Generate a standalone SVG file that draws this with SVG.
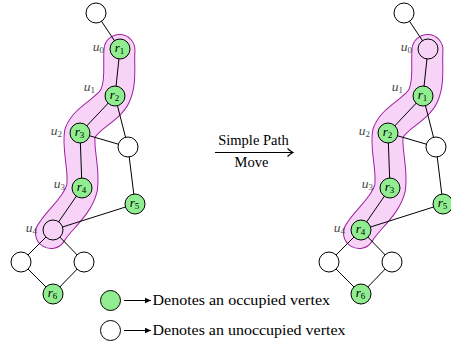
<svg xmlns="http://www.w3.org/2000/svg" width="451" height="345" viewBox="0 0 451 345">
  <style>
    .edge { stroke: #000; stroke-width: 1; fill: none; }
    .occ { fill: #90ee90; stroke: #000; stroke-width: 1; }
    .free { fill: #fff; stroke: #000; stroke-width: 1; }
    .onpath { fill: #f7d4f7; stroke: #000; stroke-width: 1; }
    .tube-out { fill: none; stroke: #a020a0; stroke-width: 32; stroke-linecap: round; stroke-linejoin: round; }
    .tube-in { fill: none; stroke: #f7d4f7; stroke-width: 30; stroke-linecap: round; stroke-linejoin: round; }
    .rl { font-family: "Liberation Serif", "DejaVu Serif", serif; font-style: italic; font-size: 13px; text-anchor: middle; fill: #000; }
    .ul { font-family: "Liberation Serif", "DejaVu Serif", serif; font-style: italic; font-size: 13.5px; text-anchor: end; fill: #484848; }
    .sub { font-size: 9px; font-style: normal; }
    .cap { font-family: "Liberation Serif", "DejaVu Serif", serif; font-size: 14.5px; fill: #000; }
  </style>
  <defs>
    <path id="tube" d="M119.5,50 C118.3,64.7 121.7,82 115,96 C108.3,110 85.5,117.7 80,133 C77,148 85,170 82,188 C78,205 62,217 53,230 L51,233"/>
    <marker id="to" markerWidth="10" markerHeight="10" refX="6" refY="5" orient="auto" markerUnits="userSpaceOnUse">
      <path d="M0.5,1 Q3,3.6 6,5 Q3,6.4 0.5,9" fill="none" stroke="#000" stroke-width="1.1"/>
    </marker>
    <marker id="tri" markerWidth="8" markerHeight="8" refX="6" refY="4" orient="auto" markerUnits="userSpaceOnUse">
      <path d="M0,1.3 L6,4 L0,6.7 Z" fill="#000"/>
    </marker>
  </defs>

  <!-- left configuration: path highlight -->
  <g id="path-left">
    <use href="#tube" class="tube-out"/>
    <use href="#tube" class="tube-in"/>
  </g>

  <!-- right configuration: path highlight -->
  <g id="path-right" transform="translate(308,0)">
    <use href="#tube" class="tube-out"/>
    <use href="#tube" class="tube-in"/>
  </g>

  <g id="connectors">
    <g id="edges-left">
      <line class="edge" x1="96" y1="13" x2="120" y2="49"/>
      <line class="edge" x1="120" y1="49" x2="115" y2="96"/>
      <line class="edge" x1="115" y1="96" x2="80" y2="133"/>
      <line class="edge" x1="115" y1="96" x2="128" y2="147"/>
      <line class="edge" x1="80" y1="133" x2="128" y2="147"/>
      <line class="edge" x1="80" y1="133" x2="82" y2="188"/>
      <line class="edge" x1="82" y1="188" x2="53" y2="230"/>
      <line class="edge" x1="128" y1="147" x2="135" y2="204"/>
      <line class="edge" x1="135" y1="204" x2="53" y2="230"/>
      <line class="edge" x1="53" y1="230" x2="21" y2="262"/>
      <line class="edge" x1="53" y1="230" x2="84" y2="262"/>
      <line class="edge" x1="21" y1="262" x2="53" y2="294"/>
      <line class="edge" x1="84" y1="262" x2="53" y2="294"/>
    </g>
    <g id="edges-right" transform="translate(308,0)">
      <line class="edge" x1="96" y1="13" x2="120" y2="49"/>
      <line class="edge" x1="120" y1="49" x2="115" y2="96"/>
      <line class="edge" x1="115" y1="96" x2="80" y2="133"/>
      <line class="edge" x1="115" y1="96" x2="128" y2="147"/>
      <line class="edge" x1="80" y1="133" x2="128" y2="147"/>
      <line class="edge" x1="80" y1="133" x2="82" y2="188"/>
      <line class="edge" x1="82" y1="188" x2="53" y2="230"/>
      <line class="edge" x1="128" y1="147" x2="135" y2="204"/>
      <line class="edge" x1="135" y1="204" x2="53" y2="230"/>
      <line class="edge" x1="53" y1="230" x2="21" y2="262"/>
      <line class="edge" x1="53" y1="230" x2="84" y2="262"/>
      <line class="edge" x1="21" y1="262" x2="53" y2="294"/>
      <line class="edge" x1="84" y1="262" x2="53" y2="294"/>
    </g>
    <line id="move-arrow" class="edge" x1="215" y1="152.5" x2="293" y2="152.5" stroke-width="1.1" marker-end="url(#to)"/>
    <line id="legend-arrow-occ" class="edge" x1="124" y1="300.5" x2="151" y2="300.5" marker-end="url(#tri)"/>
    <line id="legend-arrow-free" class="edge" x1="124" y1="330.5" x2="151" y2="330.5" marker-end="url(#tri)"/>
  </g>

  <!-- left configuration: vertices -->
  <g id="left-nodes">
    <g id="L-top"><circle class="free" cx="96" cy="13" r="10"/></g>
    <g id="L-u0"><circle class="occ" cx="120" cy="49" r="10"/><text class="rl" x="119.5" y="52">r<tspan class="sub" dy="2">1</tspan></text><text class="ul" x="104" y="51">u<tspan class="sub" dy="2">0</tspan></text></g>
    <g id="L-u1"><circle class="occ" cx="115" cy="96" r="10"/><text class="rl" x="114.5" y="99">r<tspan class="sub" dy="2">2</tspan></text><text class="ul" x="95" y="91">u<tspan class="sub" dy="2">1</tspan></text></g>
    <g id="L-u2"><circle class="occ" cx="80" cy="133" r="10"/><text class="rl" x="79.5" y="136">r<tspan class="sub" dy="2">3</tspan></text><text class="ul" x="62" y="135">u<tspan class="sub" dy="2">2</tspan></text></g>
    <g id="L-w"><circle class="free" cx="128" cy="147" r="10"/></g>
    <g id="L-u3"><circle class="occ" cx="82" cy="188" r="10"/><text class="rl" x="81.5" y="191">r<tspan class="sub" dy="2">4</tspan></text><text class="ul" x="65" y="188">u<tspan class="sub" dy="2">3</tspan></text></g>
    <g id="L-r5"><circle class="occ" cx="135" cy="204" r="10"/><text class="rl" x="134.5" y="207">r<tspan class="sub" dy="2">5</tspan></text></g>
    <g id="L-u4"><circle class="onpath" cx="53" cy="230" r="10"/><text class="ul" x="37" y="232">u<tspan class="sub" dy="2">4</tspan></text></g>
    <g id="L-a"><circle class="free" cx="21" cy="262" r="10"/></g>
    <g id="L-b"><circle class="free" cx="84" cy="262" r="10"/></g>
    <g id="L-r6"><circle class="occ" cx="53" cy="294" r="10"/><text class="rl" x="52.5" y="297">r<tspan class="sub" dy="2">6</tspan></text></g>
  </g>

  <!-- right configuration: vertices after the move -->
  <g id="right-nodes" transform="translate(308,0)">
    <g id="R-top"><circle class="free" cx="96" cy="13" r="10"/></g>
    <g id="R-u0"><circle class="onpath" cx="120" cy="49" r="10"/><text class="ul" x="104" y="51">u<tspan class="sub" dy="2">0</tspan></text></g>
    <g id="R-u1"><circle class="occ" cx="115" cy="96" r="10"/><text class="rl" x="114.5" y="99">r<tspan class="sub" dy="2">1</tspan></text><text class="ul" x="95" y="91">u<tspan class="sub" dy="2">1</tspan></text></g>
    <g id="R-u2"><circle class="occ" cx="80" cy="133" r="10"/><text class="rl" x="79.5" y="136">r<tspan class="sub" dy="2">2</tspan></text><text class="ul" x="62" y="135">u<tspan class="sub" dy="2">2</tspan></text></g>
    <g id="R-w"><circle class="free" cx="128" cy="147" r="10"/></g>
    <g id="R-u3"><circle class="occ" cx="82" cy="188" r="10"/><text class="rl" x="81.5" y="191">r<tspan class="sub" dy="2">3</tspan></text><text class="ul" x="65" y="188">u<tspan class="sub" dy="2">3</tspan></text></g>
    <g id="R-r5"><circle class="occ" cx="135" cy="204" r="10"/><text class="rl" x="134.5" y="207">r<tspan class="sub" dy="2">5</tspan></text></g>
    <g id="R-u4"><circle class="occ" cx="53" cy="230" r="10"/><text class="rl" x="52.5" y="233">r<tspan class="sub" dy="2">4</tspan></text><text class="ul" x="37" y="232">u<tspan class="sub" dy="2">4</tspan></text></g>
    <g id="R-a"><circle class="free" cx="21" cy="262" r="10"/></g>
    <g id="R-b"><circle class="free" cx="84" cy="262" r="10"/></g>
    <g id="R-r6"><circle class="occ" cx="53" cy="294" r="10"/><text class="rl" x="52.5" y="297">r<tspan class="sub" dy="2">6</tspan></text></g>
  </g>

  <!-- move caption -->
  <g id="move-caption">
    <text class="cap" x="253.5" y="145" text-anchor="middle">Simple Path</text>
    <text class="cap" x="251.5" y="166.5" text-anchor="middle">Move</text>
  </g>

  <!-- legend -->
  <g id="legend-occupied">
    <circle class="occ" cx="110.5" cy="300.5" r="10"/>
    <text class="cap" x="152.5" y="304.5" textLength="177.5" lengthAdjust="spacingAndGlyphs">Denotes an occupied vertex</text>
  </g>
  <g id="legend-unoccupied">
    <circle class="free" cx="110.5" cy="330.5" r="10"/>
    <text class="cap" x="152.5" y="334.5" textLength="193" lengthAdjust="spacingAndGlyphs">Denotes an unoccupied vertex</text>
  </g>
</svg>
